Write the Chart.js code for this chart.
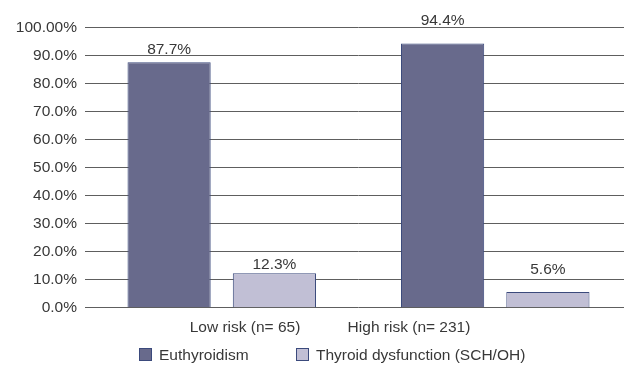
<!DOCTYPE html>
<html>
<head>
<meta charset="utf-8">
<script src="https://cdn.jsdelivr.net/npm/chart.js@4"></script>
<style>
  html, body { margin: 0; padding: 0; background: #fff; overflow: hidden; }
  #wrap { width: 624px; height: 365px; overflow: hidden; position: relative; }
  canvas { display: block; }
</style>
</head>
<body>
<div id="wrap"><canvas id="c" width="632" height="365"></canvas></div>
<script>
const categories = ["Low risk (n= 65)", "High risk (n= 231)"];
const seriesNames = ["Euthyroidism", "Thyroid dysfunction (SCH/OH)"];
const euthyroidism = [87.7, 94.4];
const thyroidDysfunction = [12.3, 5.6];
const valueLabels = [["87.7%", "94.4%"], ["12.3%", "5.6%"]];
const yTickLabels = ["0.0%", "10.0%", "20.0%", "30.0%", "40.0%", "50.0%", "60.0%", "70.0%", "80.0%", "90.0%", "100.00%"];

const FONT = "'Liberation Sans', Arial, sans-serif";
const FS = 15.5;
const TEXT = '#383838';
// label gaps above bar tops [dataset][index]
const labelGap = [[8, 18], [4, 18]];

const overlay = {
  id: 'overlay',
  afterDatasetsDraw(chart) {
    const ctx = chart.ctx;
    ctx.save();
    ctx.font = FS + 'px ' + FONT;
    ctx.fillStyle = TEXT;
    ctx.textAlign = 'center';
    ctx.textBaseline = 'alphabetic';
    chart.data.datasets.forEach((ds, di) => {
      chart.getDatasetMeta(di).data.forEach((bar, i) => {
        ctx.fillText(valueLabels[di][i], bar.x, bar.y - labelGap[di][i]);
      });
    });
    // category labels
    const catX = [245, 409];
    categories.forEach((c, i) => ctx.fillText(c, catX[i], 332));
    // legend
    ctx.textAlign = 'left';
    const legX = [139, 296];
    chart.data.datasets.forEach((ds, di) => {
      ctx.fillStyle = ds.backgroundColor;
      ctx.strokeStyle = ds.borderColor;
      ctx.lineWidth = 1;
      ctx.fillRect(legX[di], 348, 13, 13);
      ctx.strokeRect(legX[di] + 0.5, 348.5, 12, 12);
      ctx.fillStyle = TEXT;
      ctx.fillText(ds.label, legX[di] + 20, 360);
    });
    ctx.restore();
  }
};

new Chart(document.getElementById('c'), {
  type: 'bar',
  data: {
    labels: categories,
    datasets: [
      { label: seriesNames[0], data: euthyroidism, backgroundColor: '#686a8c', borderColor: '#3b4a7c', borderWidth: 1 },
      { label: seriesNames[1], data: thyroidDysfunction, backgroundColor: '#c1bfd5', borderColor: '#3b4a7c', borderWidth: 1 }
    ]
  },
  options: {
    responsive: false,
    animation: false,
    devicePixelRatio: 1,
    categoryPercentage: 0.77,
    barPercentage: 0.79,
    layout: { padding: { left: 0, right: 0, top: 27.7, bottom: 57.3 } },
    plugins: { legend: { display: false }, tooltip: { enabled: false } },
    scales: {
      x: { display: false },
      y: {
        min: 0, max: 100,
        afterFit(scale) { scale.width = 85; },
        border: { display: false },
        grid: { color: '#5e5e5e', lineWidth: 1, drawTicks: false },
        ticks: {
          stepSize: 10,
          padding: 8,
          color: TEXT,
          font: { family: FONT, size: FS },
          callback: (v) => yTickLabels[Math.round(v / 10)]
        }
      }
    }
  },
  plugins: [overlay]
});
</script>
</body>
</html>
